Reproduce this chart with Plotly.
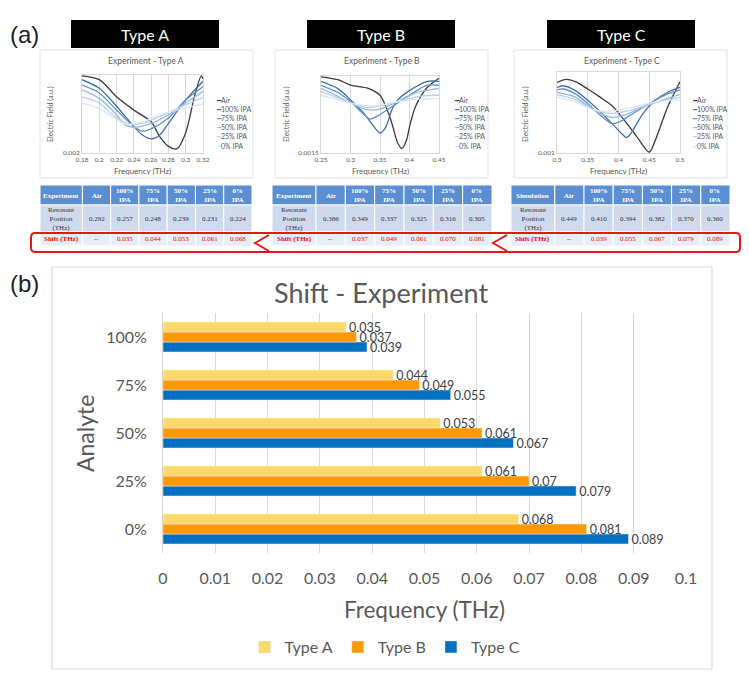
import plotly.graph_objects as go

# the page puts the figure 8px in from the top-left corner, so the figure is
# drawn 16px smaller than the window and every pixel position is shifted by 8
W, H = 749, 678
OFF = 8
FW, FH = W - 2 * OFF, H - 2 * OFF

# ---- part (b): shift bar chart data ----
analyte = ["0%", "25%", "50%", "75%", "100%"]
shift_a = [0.068, 0.061, 0.053, 0.044, 0.035]
shift_b = [0.081, 0.07, 0.061, 0.049, 0.037]
shift_c = [0.089, 0.079, 0.067, 0.055, 0.039]

# ---- part (a): tables ----
table_cols = ["Air", "100%<br>IPA", "75%<br>IPA", "50%<br>IPA", "25%<br>IPA", "0%<br>IPA"]
res_a = ["0.292", "0.257", "0.248", "0.239", "0.231", "0.224"]
res_b = ["0.386", "0.349", "0.337", "0.325", "0.316", "0.305"]
res_c = ["0.449", "0.410", "0.394", "0.382", "0.370", "0.360"]
tshift_a = ["--", "0.035", "0.044", "0.053", "0.061", "0.068"]
tshift_b = ["--", "0.037", "0.049", "0.061", "0.070", "0.081"]
tshift_c = ["--", "0.039", "0.055", "0.067", "0.079", "0.089"]

# ---- part (a): spectra (normalised field) ----
series = ["Air", "100% IPA", "75% IPA", "50% IPA", "25% IPA", "0% IPA"]
series_colors = ["#3a3a3a", "#3F6FA9", "#5F8FCB", "#94B8E3", "#B9D0EC", "#D8E6F5"]

curves_a = {
    "Air": ([0.18, 0.2, 0.22, 0.24, 0.26, 0.27, 0.28, 0.29, 0.30, 0.31, 0.318, 0.32],
            [0.99, 0.94, 0.72, 0.55, 0.40, 0.21, 0.085, 0.055, 0.26, 0.72, 0.99, 0.95]),
    "100% IPA": ([0.18, 0.2, 0.22, 0.24, 0.25, 0.26, 0.27, 0.28, 0.30, 0.32],
                 [0.94, 0.83, 0.60, 0.34, 0.23, 0.18, 0.23, 0.38, 0.68, 0.92]),
    "75% IPA": ([0.18, 0.2, 0.22, 0.24, 0.25, 0.26, 0.28, 0.30, 0.32],
                [0.87, 0.77, 0.55, 0.34, 0.28, 0.31, 0.45, 0.68, 0.85]),
    "50% IPA": ([0.18, 0.2, 0.22, 0.23, 0.24, 0.26, 0.28, 0.30, 0.32],
                [0.81, 0.70, 0.49, 0.36, 0.33, 0.38, 0.49, 0.64, 0.79]),
    "25% IPA": ([0.18, 0.2, 0.22, 0.235, 0.25, 0.27, 0.29, 0.32],
                [0.72, 0.64, 0.45, 0.37, 0.38, 0.47, 0.57, 0.71]),
    "0% IPA": ([0.18, 0.2, 0.22, 0.23, 0.25, 0.27, 0.29, 0.32],
               [0.64, 0.57, 0.43, 0.37, 0.40, 0.49, 0.55, 0.63]),
}
curves_b = {
    "Air": ([0.25, 0.28, 0.30, 0.33, 0.35, 0.36, 0.37, 0.38, 0.387, 0.395, 0.40, 0.41, 0.43, 0.45],
            [0.99, 0.95, 0.88, 0.84, 0.75, 0.60, 0.39, 0.13, 0.06, 0.17, 0.34, 0.60, 0.85, 0.97]),
    "100% IPA": ([0.25, 0.28, 0.30, 0.32, 0.335, 0.35, 0.36, 0.37, 0.38, 0.40, 0.43, 0.45],
                 [0.93, 0.83, 0.69, 0.54, 0.39, 0.26, 0.34, 0.56, 0.69, 0.81, 0.93, 0.93]),
    "75% IPA": ([0.25, 0.28, 0.30, 0.32, 0.333, 0.35, 0.37, 0.40, 0.43, 0.45],
                [0.88, 0.78, 0.67, 0.52, 0.44, 0.50, 0.60, 0.75, 0.88, 0.88]),
    "50% IPA": ([0.25, 0.28, 0.30, 0.33, 0.35, 0.38, 0.41, 0.45],
                [0.84, 0.73, 0.65, 0.56, 0.57, 0.67, 0.78, 0.84]),
    "25% IPA": ([0.25, 0.28, 0.31, 0.33, 0.36, 0.39, 0.42, 0.45],
                [0.80, 0.71, 0.63, 0.59, 0.63, 0.69, 0.74, 0.75]),
    "0% IPA": ([0.25, 0.28, 0.31, 0.34, 0.37, 0.40, 0.45],
               [0.75, 0.69, 0.63, 0.61, 0.65, 0.69, 0.71]),
}
curves_c = {
    "Air": ([0.30, 0.315, 0.33, 0.35, 0.37, 0.39, 0.41, 0.43, 0.45, 0.46, 0.48, 0.50],
            [0.87, 0.91, 0.88, 0.79, 0.69, 0.58, 0.40, 0.20, 0.01, 0.16, 0.57, 0.88]),
    "100% IPA": ([0.30, 0.31, 0.33, 0.35, 0.37, 0.39, 0.405, 0.413, 0.42, 0.44, 0.46, 0.48, 0.50],
                 [0.81, 0.83, 0.77, 0.65, 0.51, 0.36, 0.24, 0.19, 0.24, 0.49, 0.65, 0.75, 0.81]),
    "75% IPA": ([0.30, 0.31, 0.33, 0.35, 0.37, 0.39, 0.40, 0.42, 0.45, 0.48, 0.50],
                [0.78, 0.79, 0.73, 0.61, 0.47, 0.36, 0.38, 0.47, 0.61, 0.73, 0.78]),
    "50% IPA": ([0.30, 0.33, 0.35, 0.37, 0.39, 0.41, 0.44, 0.47, 0.50],
                [0.75, 0.69, 0.58, 0.49, 0.44, 0.47, 0.57, 0.65, 0.72]),
    "25% IPA": ([0.30, 0.33, 0.35, 0.37, 0.39, 0.42, 0.45, 0.50],
                [0.72, 0.66, 0.57, 0.51, 0.49, 0.53, 0.60, 0.69]),
    "0% IPA": ([0.30, 0.33, 0.35, 0.37, 0.40, 0.43, 0.46, 0.50],
               [0.69, 0.63, 0.56, 0.52, 0.53, 0.58, 0.63, 0.66]),
}


def px(x):
    return (x - OFF) / FW


def py(y):
    return 1 - (y - OFF) / FH


GREY = "#595959"
GRID = "#d9d9d9"
SANS = "Lato"
SERIF = "Liberation Serif"

fig = go.Figure()
annotations = []
shapes = []
layout_axes = {}


def note(x, y, text, size, color=GREY, family=SANS, **kw):
    d = dict(x=px(x), y=py(y), xref="paper", yref="paper", text=text, showarrow=False,
             xanchor="center", yanchor="middle", font=dict(size=size, color=color, family=family))
    d.update(kw)
    annotations.append(d)


# small spectra charts
small = [
    (curves_a, "2", [0.18, 0.32], 0.02, "0.002", (82, 203), 75, "Experiment - Type A", 146, 214, 50),
    (curves_b, "3", [0.25, 0.45], 0.05, "0.0015", (321, 439), 76, "Experiment - Type B", 382, 452, 286),
    (curves_c, "4", [0.30, 0.50], 0.05, "0.001", (557, 680), 72, "Experiment - Type C", 622, 690, 525),
]

for curves, k, xr, dt, ylab, (x0, x1), ytop, title, tx, lx, ytx in small:
    for name, col in zip(series, series_colors):
        xs, ys = curves[name]
        fig.add_trace(go.Scatter(
            x=xs, y=ys, mode="lines", name=name, showlegend=False,
            line=dict(color=col, width=1.3, shape="spline", smoothing=0.8),
            xaxis="x" + k, yaxis="y" + k,
        ))
    layout_axes["xaxis" + k] = dict(
        domain=[px(x0), px(x1)], anchor="y" + k, range=xr, dtick=dt, tick0=xr[0],
        showgrid=True, gridcolor=GRID, gridwidth=1, zeroline=False,
        showline=True, linecolor=GRID, mirror=True, ticks="",
        tickfont=dict(size=6.5, color=GREY, family=SANS),
    )
    layout_axes["yaxis" + k] = dict(
        domain=[py(153), py(ytop)], anchor="x" + k, range=[0, 1.0],
        tickvals=[0], ticktext=[ylab], showgrid=False, zeroline=False,
        showline=True, linecolor=GRID, mirror=True, ticks="",
        tickfont=dict(size=6.5, color=GREY, family=SANS),
    )
    note(tx, 61, title, 8.5)
    note((x0 + x1) / 2, 171, "Frequency (THz)", 8)
    note(ytx, 114, "Electric Field (a.u.)", 7, textangle=-90)
    legend_text = "<br>".join(
        f'<span style="color:{c}">━</span>{n}' for n, c in zip(series, series_colors)
    )
    note(lx, 123, legend_text, 7, align="left", xanchor="left")

# cards behind the small charts
for x0, x1 in [(40, 253), (275, 488), (514, 727)]:
    shapes.append(dict(type="rect", xref="paper", yref="paper", x0=px(x0), x1=px(x1),
                       y0=py(178), y1=py(50), line=dict(color="#e3e3e3", width=1), layer="below"))

# black type headers
for (x0, x1), label in zip([(71, 219), (307, 455), (547, 695)], ["Type A", "Type B", "Type C"]):
    shapes.append(dict(type="rect", xref="paper", yref="paper", x0=px(x0), x1=px(x1),
                       y0=py(48), y1=py(20), fillcolor="black", line=dict(width=0)))
    note((x0 + x1) / 2, 34, label, 16, color="white")

# tables drawn as cells
tables = [
    ("Experiment", res_a, tshift_a, (40, 252)),
    ("Experiment", res_b, tshift_b, (272, 492)),
    ("Simulation", res_c, tshift_c, (511, 730)),
]
col_weights = [1.5, 1, 1, 1, 1, 1, 1]
row_edges = [185, 205, 232, 246]
row_fills = ["#5B8FD4", "#CFDAEE", "#E8EDF7"]
for head, res, sh, (x0, x1) in tables:
    unit = (x1 - x0) / sum(col_weights)
    edges = [x0]
    for wgt in col_weights:
        edges.append(edges[-1] + wgt * unit)
    rows = [
        [f"<b>{head}</b>"] + [f"<b>{c}</b>" for c in table_cols],
        ["Resonant<br>Position<br>(THz)"] + res,
        ["<b>Shift (THz)</b>"] + sh,
    ]
    colors = ["white", "#333333", "#FF0000"]
    for ri, row in enumerate(rows):
        ya, yb = row_edges[ri], row_edges[ri + 1]
        for ci, txt in enumerate(row):
            xa, xb = edges[ci], edges[ci + 1]
            shapes.append(dict(type="rect", xref="paper", yref="paper",
                               x0=px(xa), x1=px(xb), y0=py(yb), y1=py(ya),
                               fillcolor=row_fills[ri], line=dict(color="white", width=1),
                               layer="below"))
            note((xa + xb) / 2, (ya + yb) / 2 + 0.5, txt, 7, color=colors[ri], family=SERIF)

# red highlight box and arrows
rx0, rx1, ry0, ry1, r = px(31), px(740), py(252), py(233), 0.006
shapes.append(dict(
    type="path", xref="paper", yref="paper",
    path=(f"M {rx0 + r},{ry1} L {rx1 - r},{ry1} Q {rx1},{ry1} {rx1},{ry1 - r * 1.1} "
          f"L {rx1},{ry0 + r * 1.1} Q {rx1},{ry0} {rx1 - r},{ry0} L {rx0 + r},{ry0} "
          f"Q {rx0},{ry0} {rx0},{ry0 + r * 1.1} L {rx0},{ry1 - r * 1.1} Q {rx0},{ry1} {rx0 + r},{ry1} Z"),
    line=dict(color="#E8141B", width=2),
))
for ax, bx in [(255, 269), (493, 507)]:
    shapes.append(dict(
        type="path", xref="paper", yref="paper",
        path=f"M {px(bx)},{py(235)} L {px(ax)},{py(243)} L {px(bx)},{py(251)}",
        line=dict(color="#E8141B", width=2),
    ))

# ---- part (b) ----
shapes.append(dict(type="rect", xref="paper", yref="paper", x0=px(52), x1=px(712),
                   y0=py(669), y1=py(267), line=dict(color="#dcdcdc", width=1.2), layer="below"))

for name, vals, col in [("Type C", shift_c, "#0070C0"),
                        ("Type B", shift_b, "#FF9900"),
                        ("Type A", shift_a, "#FFD966")]:
    fig.add_trace(go.Bar(
        y=analyte, x=vals, name=name, orientation="h", marker=dict(color=col),
        text=[str(v) for v in vals], textposition="outside", cliponaxis=False,
        constraintext="none",
        textfont=dict(size=12.5, color="#404040", family=SANS),
        xaxis="x", yaxis="y",
    ))

note(381, 292, "Shift - Experiment", 27)
note(85, 434, "Analyte", 23, textangle=-90)
note(424, 609, "Frequency (THz)", 22.5)
note(24, 34, "(a)", 24, color="#222222", family="Liberation Sans")
note(24, 283, "(b)", 24, color="#222222", family="Liberation Sans")

fig.update_layout(
    width=FW, height=FH, margin=dict(l=0, r=0, t=0, b=0, autoexpand=False),
    paper_bgcolor="white", plot_bgcolor="white",
    barmode="group", bargap=0.375, bargroupgap=0,
    xaxis=dict(domain=[px(163), px(686)], anchor="y", range=[0, 0.1], dtick=0.01,
               showgrid=True, gridcolor=GRID, zeroline=False, showline=False, ticks="",
               ticklabelstandoff=14, tickfont=dict(size=16, color=GREY, family=SANS)),
    yaxis=dict(domain=[py(553), py(313)], anchor="x", categoryorder="array",
               categoryarray=analyte, showline=True, linecolor=GRID, ticks="",
               ticklabelstandoff=12, tickfont=dict(size=16, color=GREY, family=SANS)),
    legend=dict(orientation="h", x=px(385), xanchor="center", y=py(647), yanchor="middle",
                traceorder="reversed", itemwidth=30,
                font=dict(size=16, color=GREY, family=SANS)),
    annotations=annotations, shapes=shapes,
    **layout_axes,
)

fig.write_html("out.html")
